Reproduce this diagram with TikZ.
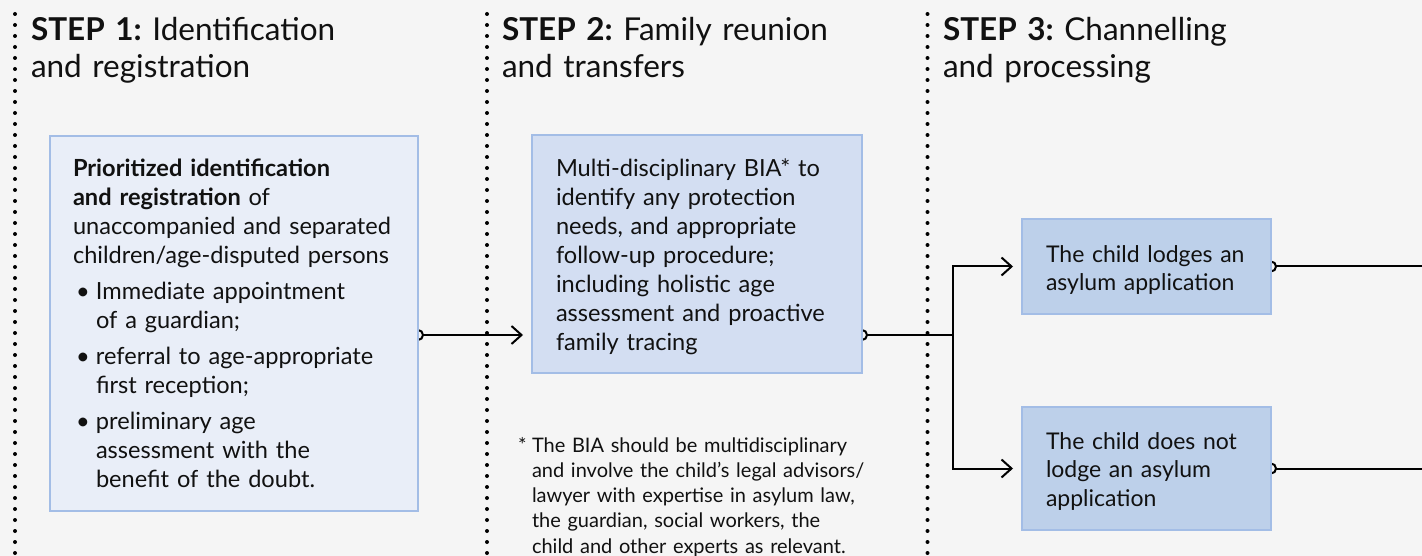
\documentclass[tikz,border=0pt]{standalone}
\usepackage{fontspec}
\setmainfont{Lato}[WordSpace=0.8]
\usetikzlibrary{arrows.meta}
\pgfdeclarelayer{bg}
\pgfdeclarelayer{conn}
\pgfsetlayers{bg,conn,main}
\definecolor{bgc}{HTML}{F5F5F5}
\definecolor{fillA}{HTML}{E9EEF8}
\definecolor{fillB}{HTML}{D3DEF2}
\definecolor{fillC}{HTML}{BDD0EA}
\definecolor{boxline}{HTML}{A3BDE6}
\definecolor{ink}{HTML}{111111}
\newcommand\bulitem[1]{\par\vspace{7pt}\hangindent=23pt\hangafter=1\noindent\makebox[23pt][l]{\hspace{3pt}\textbullet}#1\par}
\newcommand\stepgap{ \kern-5pt}
\begin{document}
\begin{tikzpicture}[x=1pt,y=-1pt,
  boxA/.style={draw=boxline, line width=1.5pt, fill=fillA, anchor=north west, inner sep=0pt, outer sep=0pt},
  boxB/.style={boxA, fill=fillB},
  boxC/.style={boxA, fill=fillC},
  txt/.style={anchor=base west, inner sep=0pt, outer sep=0pt, align=left, text width=#1, text=ink, font=\fontsize{23.6}{29}\selectfont},
  txtsm/.style={txt=#1, font=\fontsize{23}{28.5}\selectfont},
  head/.style={anchor=base west, inner sep=0pt, outer sep=0pt, align=left, text width=420pt, text=ink, font=\fontsize{31.5}{36.5}\selectfont},
  foot/.style={anchor=base west, inner sep=0pt, outer sep=0pt, align=left, text width=380pt, text=ink, font=\fontsize{20}{25.3}\selectfont},
  dotline/.style={draw=black, line width=4pt, line cap=round, dash pattern=on 0pt off 11pt},
  cline/.style={draw=black, line width=2pt},
  ring/.style={draw=black, line width=2pt, fill=none},
  headonly/.style={-{Straight Barb[length=10pt,width=18pt]}, shorten >=9pt},
  tailgap/.style={shorten <=5pt}
]
\useasboundingbox (0,0) rectangle (1422,556);
\begin{pgfonlayer}{bg}
\fill[bgc] (0,0) rectangle (1422,556);
\coordinate (d1t) at (15,14); \coordinate (d1b) at (15,562);
\coordinate (d2t) at (487,14); \coordinate (d2b) at (487,562);
\coordinate (d3t) at (927.5,14); \coordinate (d3b) at (927.5,562);
\draw[dotline] (d1t) -- (d1b);
\draw[dotline] (d2t) -- (d2b);
\draw[dotline] (d3t) -- (d3b);
\end{pgfonlayer}

% headers
\node[head] (h1) at (31,41) {\textbf{STEP 1:}\stepgap Identification\\and registration};
\node[head] (h2) at (502,41) {\textbf{STEP 2:}\stepgap Family reunion\\and transfers};
\node[head] (h3) at (943,41) {\textbf{STEP 3:}\stepgap Channelling\\and processing};

% boxes
\node[boxA, minimum width=368pt, minimum height=375pt] (b1) at (50,136) {};
\node[boxB, minimum width=330pt, minimum height=238pt] (b2) at (532,135) {};
\node[boxC, minimum width=249pt, minimum height=95pt] (b3) at (1022,219) {};
\node[boxC, minimum width=249pt, minimum height=123pt] (b4) at (1022,407) {};

% box texts
\node[txt=345pt] (t1) at (73,177) {\textbf{Prioritized identification}\\\textbf{and registration} of\\unaccompanied and separated\\children/age-disputed persons
\bulitem{Immediate appointment\break of a guardian;}
\bulitem{referral to age-appropriate\break first reception;}
\bulitem{preliminary age\break assessment with the\break benefit of the doubt.}};
\node[txt=300pt] (t2) at (556,177) {Multi-disciplinary BIA* to\\identify any protection\\needs, and appropriate\\follow-up procedure;\\including holistic age\\assessment and proactive\\family tracing};
\node[txtsm=220pt] (t3) at (1046,262) {The child lodges an\\asylum application};
\node[txtsm=220pt] (t4) at (1046,449) {The child does not\\lodge an asylum\\application};

% footnote
\node[foot] (fn) at (518,452) {\hangindent=14pt\hangafter=1\noindent\makebox[14pt][l]{*}The BIA should be multidisciplinary\break and involve the child’s legal advisors/\break lawyer with expertise in asylum law,\break the guardian, social workers, the\break child and other experts as relevant.\par};

% connectors
\coordinate (r1) at (0,335);
\coordinate (sp) at (953,335);
\coordinate (e3) at (1422,266.5);
\coordinate (e4) at (1422,468.5);
\begin{pgfonlayer}{conn}
\draw[cline, tailgap, headonly] (b1.east |- r1) -- (b2.west |- r1);
\draw[ring] (b1.east |- r1) circle[radius=5pt];
\draw[cline, tailgap] (b2.east |- r1) -- (sp);
\draw[ring] (b2.east |- r1) circle[radius=5pt];
\draw[cline, headonly] (sp) |- (b3.west);
\draw[cline, headonly] (sp) |- (b4.west);
\draw[cline, tailgap] (b3.east) -- (e3);
\draw[ring] (b3.east) circle[radius=5pt];
\draw[cline, tailgap] (b4.east) -- (e4);
\draw[ring] (b4.east) circle[radius=5pt];
\end{pgfonlayer}
\end{tikzpicture}
\end{document}
